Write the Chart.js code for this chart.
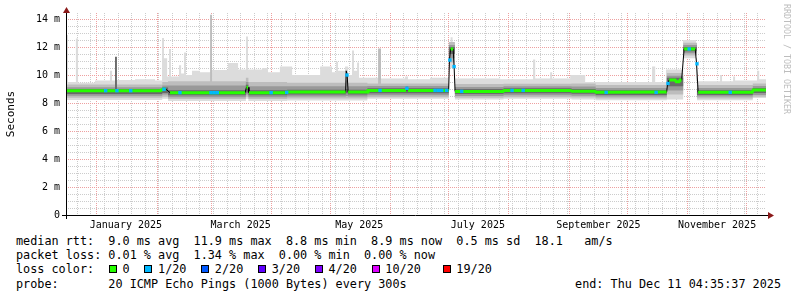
<!DOCTYPE html>
<html lang="en">
<head>
<meta charset="UTF-8">
<title>SmokePing - last 360 days</title>
<script src="https://cdnjs.cloudflare.com/ajax/libs/Chart.js/4.4.1/chart.umd.min.js"></script>
<style>
    body { margin: 0; background: #fff; }
    #wrap { position: relative; width: 797px; height: 297px; background: #fff; font-family: 'DejaVu Sans Mono', monospace; color: #000; }
    #chart { position: absolute; left: 0; top: 0; }
    .row { position: absolute; left: 16px; font-size: 11.8px; line-height: 14px; white-space: pre; }
    .sq { position: absolute; top: 3px; width: 8px; height: 8px; box-sizing: border-box; border: 1px solid #000; }
    #end { position: absolute; right: 16px; top: 277px; font-size: 11.8px; line-height: 14px; white-space: pre; }
    #credit { position: absolute; left: 782px; top: 4px; writing-mode: vertical-rl; font-size: 8.3px; line-height: 10px; color: #bdbdbd; white-space: pre; }
</style>
</head>
<body>
<div id="wrap">
    <canvas id="chart" width="797" height="232"></canvas>
    <div id="credit">RRDTOOL / TOBI OETIKER</div>
    <div class="row" style="top:234px">median rtt:  9.0 ms avg  11.9 ms max  8.8 ms min  8.9 ms now  0.5 ms sd  18.1   am/s</div>
    <div class="row" style="top:248px">packet loss: 0.01 % avg  1.34 % max  0.00 % min  0.00 % now</div>
    <div class="row" id="lossRow" style="top:262px"></div>
    <div class="row" style="top:277px">probe:       20 ICMP Echo Pings (1000 Bytes) every 300s</div>
    <div id="end">end: Thu Dec 11 04:35:37 2025</div>
</div>

<script>
    // x = days since Mon 16 Dec 2024 04:35 (360 day window), y = milliseconds

    // median rtt
    const MEDIAN_DAYS = [0, 48.4, 49.9, 51.4, 53.5, 92.1, 92.8, 93.6, 94.1, 113.2, 113.7, 143.8, 144.1, 144.6, 145.1,
        154.8, 155.3, 174.9, 175.4, 175.9, 196.8, 197.2, 197.8, 199.1, 199.6, 200.1, 224.8, 225.3, 259.3, 260.3,
        272.1, 272.6, 308.9, 309.4, 310.2, 313.3, 313.8, 315.3, 315.8, 316.6, 317.1, 317.9, 323.6, 324.3, 325.1,
        352.9, 353.4, 360];
    const MEDIAN_MS = [8.88, 8.88, 8.98, 8.98, 8.74, 8.74, 9.12, 9.12, 8.74, 8.74, 8.79, 8.79, 10.3, 10.0, 8.79,
        8.79, 8.9, 8.9, 9.15, 8.9, 8.9, 11.07, 11.86, 11.86, 10.6, 8.83, 8.83, 8.9, 8.9, 8.84,
        8.84, 8.76, 8.78, 9.4, 9.64, 9.64, 9.52, 9.52, 9.64, 9.64, 10.5, 11.86, 11.86, 10.8, 8.76,
        8.76, 8.93, 8.93];

    // medians with 1/20 packet loss
    const LOSS_DAYS = [20.4, 26.2, 33.3, 50.4, 58.6, 74.6, 76.2, 77.8, 105.5, 113.5, 144.5, 161.5, 175.3, 189.8,
        191.5, 193.2, 195.8, 197.4, 199.6, 203.5, 229.4, 235.1, 277.8, 303.5, 309.6, 320.5, 324.5, 341.6];
    const LOSS_MS = [8.88, 8.88, 8.88, 8.98, 8.74, 8.74, 8.74, 8.74, 8.74, 8.76, 10.0, 8.9, 9.05, 8.9,
        8.9, 8.9, 8.9, 11.07, 10.6, 8.83, 8.9, 8.9, 8.76, 8.76, 9.4, 11.86, 10.8, 8.76];

    // outer smoke, upper edge (slowest pings)
    const SMOKE_TOP_DAYS = [0, 1, 5.1, 6.2, 14.9, 22.6, 23.7, 26.2, 35.5, 45.8, 49.4, 50.4, 52, 53, 54,
        58.1, 59.2, 60.7, 61.7, 64.8, 68.9, 75.1, 83.3, 88.5, 92.6, 93.6, 100.8, 103.9, 110, 116.3,
        130.7, 136.8, 138.9, 139.9, 143.5, 145.1, 147.1, 148.1, 149.7, 150.7, 162, 174.4, 175.9, 187.2, 196.9,
        197.8, 198.8, 200.0, 223.3, 240.2, 241.3, 249, 250, 259.3, 267, 301.4, 303, 308.6, 317.3, 324,
        336.4, 337.4, 343.1, 344.1, 355.4, 356.5, 360];
    const SMOKE_TOP_MS = [12.85, 9.5, 12.6, 9.45, 9.6, 10.3, 9.6, 9.65, 9.7, 9.6, 12.65, 11.2, 9.9, 11.85, 9.9,
        10.7, 10.1, 11.6, 10.0, 10.3, 10.2, 10.35, 10.85, 10.4, 12.75, 10.4, 10.5, 10.2, 10.6, 10.0,
        10.6, 10.2, 10.95, 10.3, 10.6, 10.0, 11.75, 10.3, 10.9, 9.8, 9.75, 9.9, 9.7, 9.8, 12.2,
        12.7, 12.3, 9.75, 9.7, 11.1, 9.75, 10.2, 9.75, 10.0, 9.5, 10.6, 9.5, 10.4, 12.5, 9.55,
        10.0, 9.55, 9.9, 9.6, 10.3, 9.7, 9.7];

    // inner smoke bands (lo/hi of each shade)
    const BAND_DAYS = [0, 25.2, 26.2, 49.5, 52.5, 74.1, 75.1, 92.5, 93.8, 113.7, 143.9, 145.0, 155.0, 160.5,
        162.0, 196.9, 200.0, 225.0, 260.0, 272.4, 309.0, 317.4, 324.5, 353.2, 360];
    const SMOKE_LO = [8.22, 8.22, 8.22, 8.3, 8.15, 8.15, 8.15, 8.3, 8.15, 8.18, 8.18, 8.18, 8.3, 8.3,
        8.3, 10.5, 8.25, 8.3, 8.25, 8.2, 8.25, 11.2, 8.2, 8.35, 8.35];
    const BAND2_LO = [8.38, 8.38, 8.38, 8.45, 8.28, 8.28, 8.28, 8.45, 8.28, 8.32, 8.32, 8.32, 8.42, 8.42,
        8.42, 10.9, 8.38, 8.42, 8.4, 8.32, 8.6, 11.4, 8.32, 8.45, 8.45];
    const BAND2_HI = [9.32, 9.32, 9.32, 9.5, 9.55, 14.3, 9.55, 9.8, 9.5, 9.45, 10.2, 9.45, 9.4, 11.9,
        9.4, 12.35, 9.35, 9.38, 9.4, 9.28, 10.15, 12.3, 9.28, 9.4, 9.4];
    const BAND3_LO = [8.52, 8.52, 8.52, 8.6, 8.42, 8.42, 8.42, 8.6, 8.42, 8.46, 8.5, 8.46, 8.56, 8.56,
        8.56, 11.2, 8.5, 8.56, 8.52, 8.46, 8.9, 11.55, 8.46, 8.58, 8.58];
    const BAND3_HI = [9.12, 9.12, 9.12, 9.25, 9.25, 9.25, 9.25, 9.5, 9.2, 9.2, 9.6, 9.2, 9.22, 9.22,
        9.22, 12.15, 9.15, 9.2, 9.18, 9.08, 9.95, 12.15, 9.08, 9.22, 9.22];
    const BAND4_LO = [8.64, 8.64, 8.64, 8.72, 8.55, 8.55, 8.55, 8.75, 8.55, 8.6, 8.7, 8.6, 8.7, 8.7,
        8.7, 11.5, 8.65, 8.7, 8.66, 8.58, 9.2, 11.7, 8.58, 8.72, 8.72];
    const BAND4_HI = [9.0, 11.3, 9.0, 9.1, 8.92, 8.92, 8.92, 9.3, 8.92, 8.95, 9.0, 8.95, 9.05, 9.05,
        9.05, 12.0, 9.0, 9.05, 9.0, 8.92, 9.8, 12.0, 8.92, 9.08, 9.08];

    // axes
    const MONTH_STARTS = [15.81, 46.81, 74.81, 105.81, 135.81, 166.81, 196.81, 227.81, 258.81, 288.81, 319.81, 349.81];
    const MONTH_LABEL_DAYS = [30.81, 89.81, 150.81, 211.81, 273.81, 334.81];
    const MONTH_LABELS = ['January 2025', 'March 2025', 'May 2025', 'July 2025', 'September 2025', 'November 2025'];
    const Y_LABEL_VALUES = [0, 2, 4, 6, 8, 10, 12, 14];
    const Y_LABELS = ['0', '2 m', '4 m', '6 m', '8 m', '10 m', '12 m', '14 m'];

    // loss colour legend
    const LOSS_COLORS = ['#26ff00', '#00b8ff', '#0059ff', '#5e00ff', '#7e00ff', '#dd00ff', '#ff0000'];
    const LOSS_NAMES = ['0', '1/20', '2/20', '3/20', '4/20', '10/20', '19/20'];

    const MAJOR = '#eea0a0';
    const MINOR = '#cccccc';
    const FONT = "'DejaVu Sans Mono', monospace";

    function pts(xs, ys) {
        return xs.map((x, i) => ({ x, y: ys[i] }));
    }

    // each value holds from its day until the next one
    function band(lo, hi, color, order, loIndex) {
        const base = { type: 'line', stepped: 'before', pointRadius: 0, borderWidth: 0, order };
        return [
            Object.assign({}, base, { data: pts(BAND_DAYS, lo), fill: false }),
            Object.assign({}, base, { data: hi, fill: { target: loIndex }, backgroundColor: color })
        ];
    }

    const datasets = [
        ...band(SMOKE_LO, pts(SMOKE_TOP_DAYS, SMOKE_TOP_MS), '#dcdcdc', 20, 0),
        ...band(BAND2_LO, pts(BAND_DAYS, BAND2_HI), '#bdbdbd', 19, 2),
        ...band(BAND3_LO, pts(BAND_DAYS, BAND3_HI), '#999999', 18, 4),
        ...band(BAND4_LO, pts(BAND_DAYS, BAND4_HI), '#6a6a6a', 17, 6),
        {
            data: pts(MEDIAN_DAYS, MEDIAN_MS),
            borderColor: '#000', borderWidth: 1, pointRadius: 0, fill: false, order: 3
        },
        {
            data: pts(MEDIAN_DAYS, MEDIAN_MS),
            borderColor: LOSS_COLORS[0], borderWidth: 3, pointRadius: 0, fill: false, order: 2,
            segment: {
                borderColor: c => Math.abs(c.p1.parsed.y - c.p0.parsed.y) > 0.2 ? 'rgba(0,0,0,0)' : LOSS_COLORS[0]
            }
        },
        {
            data: pts(LOSS_DAYS, LOSS_MS),
            showLine: false, pointStyle: 'rect', pointRadius: 2.4, pointBorderWidth: 0,
            pointBackgroundColor: LOSS_COLORS[1], order: 1
        }
    ];

    // draws the axis lines with their arrow heads
    const axisArrows = {
        id: 'axisArrows',
        afterDatasetsDraw(chart) {
            const { ctx, chartArea: a } = chart;
            const x0 = a.left + 0.5, y0 = a.bottom + 0.5;
            ctx.save();
            ctx.strokeStyle = '#000';
            ctx.lineWidth = 1;
            ctx.beginPath();
            ctx.moveTo(x0, a.bottom + 4);
            ctx.lineTo(x0, a.top - 2);
            ctx.moveTo(a.left - 4, y0);
            ctx.lineTo(a.right + 3, y0);
            ctx.stroke();
            ctx.fillStyle = '#8b1a1a';
            ctx.beginPath();
            ctx.moveTo(x0, a.top - 6);
            ctx.lineTo(x0 - 3.5, a.top);
            ctx.lineTo(x0 + 3.5, a.top);
            ctx.closePath();
            ctx.fill();
            ctx.beginPath();
            ctx.moveTo(a.right + 8, y0);
            ctx.lineTo(a.right + 2, y0 - 3.5);
            ctx.lineTo(a.right + 2, y0 + 3.5);
            ctx.closePath();
            ctx.fill();
            ctx.restore();
        }
    };

    new Chart(document.getElementById('chart'), {
        type: 'line',
        data: { datasets },
        plugins: [axisArrows],
        options: {
            responsive: false,
            animation: false,
            events: [],
            layout: { padding: { left: 0, right: 31, top: 13, bottom: 0 } },
            plugins: { legend: { display: false }, tooltip: { enabled: false } },
            scales: {
                x: {
                    type: 'linear', min: 0, max: 360,
                    afterFit: s => { s.height = 17; },
                    afterBuildTicks: s => {
                        const t = [];
                        for (let d = 5.81; d < 360; d += 7) t.push({ value: d, kind: 'minor' });
                        MONTH_STARTS.forEach(v => t.push({ value: v, kind: 'major' }));
                        MONTH_LABEL_DAYS.forEach((v, i) => t.push({ value: v, kind: 'label', text: MONTH_LABELS[i] }));
                        t.sort((p, q) => p.value - q.value);
                        s.ticks = t;
                    },
                    ticks: {
                        autoSkip: false, maxRotation: 0, minRotation: 0, padding: 4, color: '#000',
                        font: { family: FONT, size: 10 },
                        callback: (v, i, ticks) => ticks[i].text || ''
                    },
                    grid: {
                        drawTicks: false,
                        color: c => c.tick && c.tick.kind === 'major' ? MAJOR : (c.tick && c.tick.kind === 'minor' ? MINOR : 'rgba(0,0,0,0)')
                    },
                    border: { display: false, dash: [1, 1] }
                },
                y: {
                    min: 0, max: 14.43,
                    afterFit: s => { s.width = 66; },
                    afterBuildTicks: s => {
                        const t = [];
                        for (let v = 0; v <= 14; v += 0.5) t.push({ value: v });
                        s.ticks = t;
                    },
                    ticks: {
                        autoSkip: false, padding: 6, color: '#000',
                        font: { family: FONT, size: 10 },
                        callback: v => {
                            const i = Y_LABEL_VALUES.indexOf(v);
                            return i >= 0 ? Y_LABELS[i] : '';
                        }
                    },
                    grid: {
                        drawTicks: false,
                        color: c => c.tick && c.tick.value % 2 === 0 ? MAJOR : MINOR
                    },
                    border: { display: false, dash: [1, 1] },
                    title: {
                        display: true, text: 'Seconds', color: '#000',
                        font: { family: FONT, size: 11 },
                        padding: { top: 4.5, bottom: 0 }
                    }
                }
            }
        }
    });

    // loss colour row: squares sit on fixed character columns
    const SQUARE_COLS = [13, 18, 26, 34, 42, 50, 60];
    const LABEL_COLS = [15, 20, 28, 36, 44, 52, 62];
    const row = document.getElementById('lossRow');
    let text = 'loss color:';
    LOSS_NAMES.forEach((name, i) => {
        text = text.padEnd(LABEL_COLS[i], ' ') + name;
        const sq = document.createElement('span');
        sq.className = 'sq';
        sq.style.left = 'calc(' + SQUARE_COLS[i] + 'ch + 0.5px)';
        sq.style.background = LOSS_COLORS[i];
        row.appendChild(sq);
    });
    row.insertBefore(document.createTextNode(text), row.firstChild);
</script>
</body>
</html>
